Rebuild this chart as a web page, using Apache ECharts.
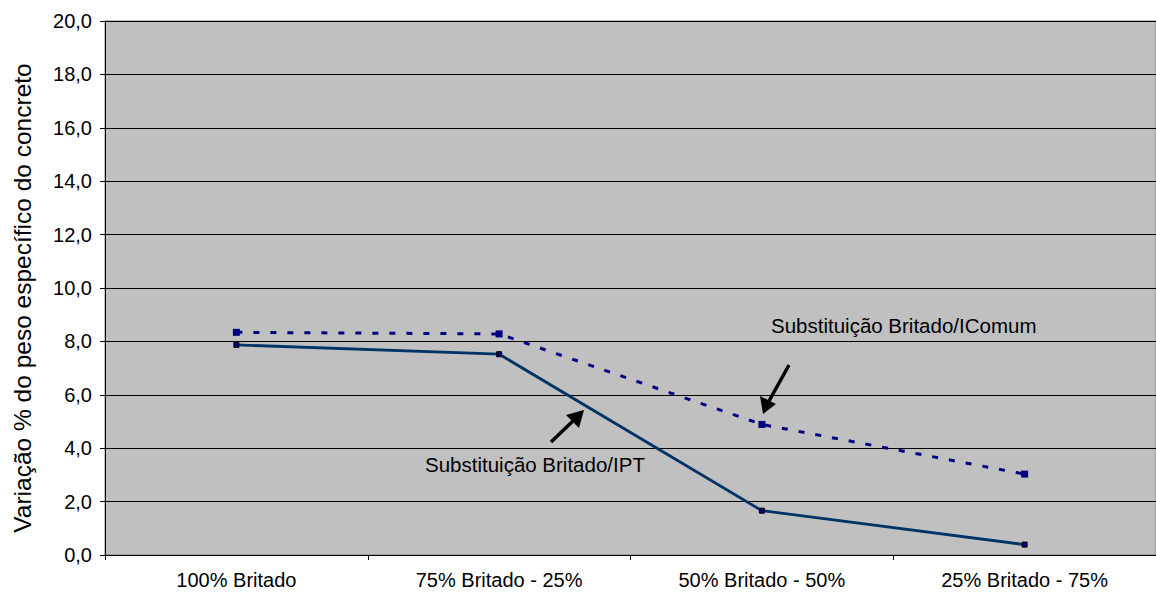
<!DOCTYPE html>
<html>
<head>
<meta charset="utf-8">
<script src="https://cdn.jsdelivr.net/npm/echarts@6/dist/echarts.min.js"></script>
<style>
  html, body { margin: 0; padding: 0; background: #ffffff; }
  #chart { width: 1156px; height: 604px; }
</style>
</head>
<body>
<div id="chart"></div>
<script>
// Mix proportions along the x axis
const categories = ['100% Britado', '75% Britado - 25%', '50% Britado - 50%', '25% Britado - 75%'];

// Variation (%) of concrete unit weight for each substitution
const seriesIPT = [7.87, 7.52, 1.66, 0.39];
const seriesComum = [8.34, 8.28, 4.89, 3.03];

const seriesNames = ['Substituição Britado/IPT', 'Substituição Britado/IComum'];

// Y axis scale
const yMin = 0;
const yMax = 20;
const yStep = 2;

const FONT = 'Liberation Sans, Arial, sans-serif';

const chart = echarts.init(document.getElementById('chart'), null, { renderer: 'svg' });

// Pixel layout of the plot area
const G = { left: 105, top: 21, right: 0, bottom: 49 };

const option = {
  backgroundColor: '#ffffff',
  animation: false,
  grid: {
    left: G.left, top: G.top, right: G.right, bottom: G.bottom,
    show: true,
    backgroundColor: '#c0c0c0',
    borderColor: '#808080',
    borderWidth: 1
  },
  xAxis: {
    type: 'category',
    data: categories,
    boundaryGap: true,
    axisLine: { show: true, lineStyle: { color: '#000000', width: 1 } },
    axisTick: { show: true, length: 5, inside: false, lineStyle: { color: '#000000' } },
    axisLabel: { color: '#000000', fontSize: 20, fontFamily: FONT, margin: 15 },
    splitLine: { show: false }
  },
  yAxis: {
    type: 'value',
    min: yMin,
    max: yMax,
    interval: yStep,
    name: 'Variação % do peso específico do concreto',
    nameLocation: 'middle',
    nameGap: 70,
    nameTextStyle: { color: '#000000', fontSize: 24.5, fontFamily: FONT, padding: [0, 20, 0, 0] },
    axisLine: { show: true, lineStyle: { color: '#000000', width: 1 } },
    axisTick: { show: true, length: 5, lineStyle: { color: '#000000' } },
    axisLabel: {
      color: '#000000', fontSize: 20, fontFamily: FONT, margin: 13,
      formatter: v => v.toFixed(1).replace('.', ',')
    },
    splitLine: { show: true, lineStyle: { color: '#000000', width: 1 } }
  },
  series: [
    {
      name: seriesNames[0],
      type: 'line',
      data: seriesIPT,
      symbol: 'rect',
      symbolSize: 5,
      lineStyle: { color: '#003366', width: 2.8 },
      itemStyle: { color: '#000080', borderColor: '#000000', borderWidth: 1 },
      z: 3
    },
    {
      name: seriesNames[1],
      type: 'line',
      data: seriesComum,
      symbol: 'rect',
      symbolSize: 7,
      lineStyle: { color: '#000080', width: 3, type: [6, 11] },
      itemStyle: { color: '#000080', borderWidth: 0 },
      z: 4
    }
  ],
  graphic: [
    // series captions
    {
      type: 'text', left: 771, top: 315, z: 10,
      style: { text: seriesNames[1], fill: '#000000', fontSize: 20.5, fontFamily: FONT }
    },
    {
      type: 'text', left: 425, top: 454, z: 10,
      style: { text: seriesNames[0], fill: '#000000', fontSize: 20.5, fontFamily: FONT }
    },
    // pointer arrows
    {
      type: 'line', z: 10,
      shape: { x1: 551, y1: 442, x2: 574, y2: 420 },
      style: { stroke: '#000000', lineWidth: 3.5 }
    },
    {
      type: 'polygon', z: 10,
      shape: { points: [[584, 410], [566, 415], [579, 428]] },
      style: { fill: '#000000' }
    },
    {
      type: 'line', z: 10,
      shape: { x1: 789, y1: 365, x2: 769, y2: 401 },
      style: { stroke: '#000000', lineWidth: 3.5 }
    },
    {
      type: 'polygon', z: 10,
      shape: { points: [[763, 414], [760, 396], [776, 404]] },
      style: { fill: '#000000' }
    }
  ]
};

chart.setOption(option);
</script>
</body>
</html>
